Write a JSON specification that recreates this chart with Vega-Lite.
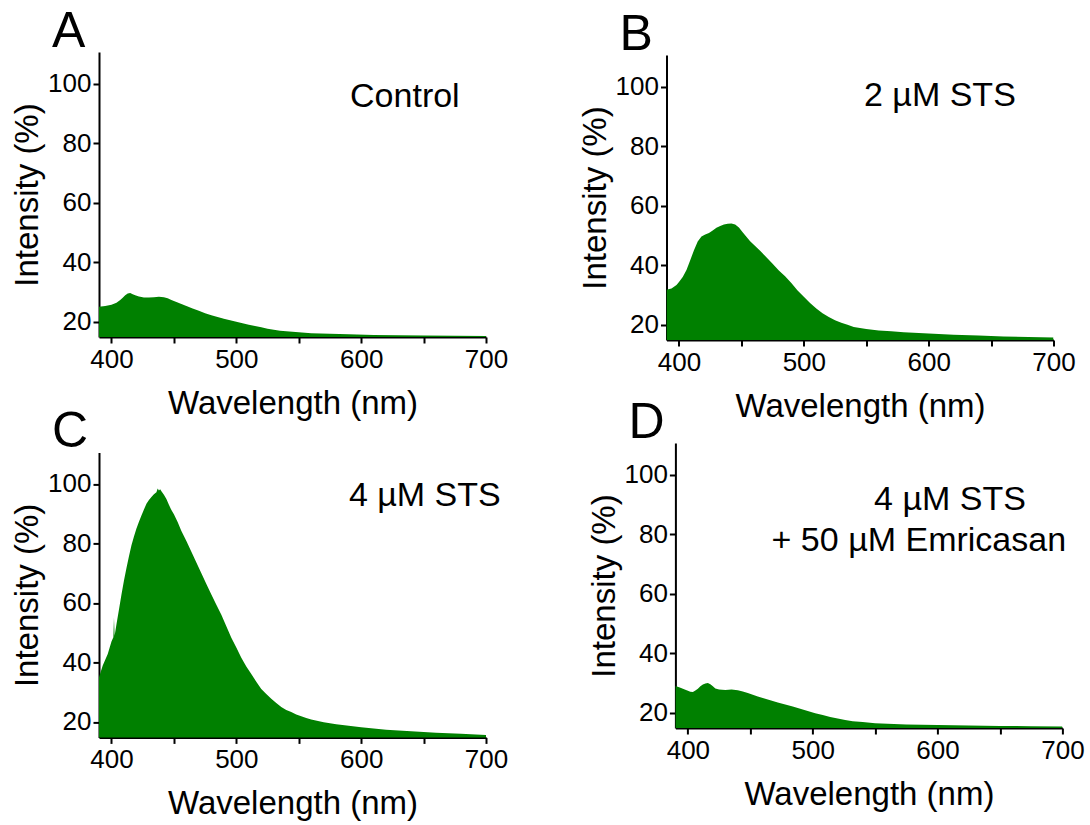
{
  "$schema": "https://vega.github.io/schema/vega-lite/v6.json",
  "background": "white",
  "padding": {"left": 11, "top": 7, "right": 0, "bottom": 0},
  "config": {
    "font": "Liberation Sans",
    "view": {"stroke": null},
    "axis": {
      "domainColor": "black", "domainWidth": 2, "tickColor": "black", "tickWidth": 2, "tickSize": 6,
      "grid": false, "labelColor": "black", "labelFontSize": 26, "labelFont": "Liberation Sans",
      "titleFont": "Liberation Sans", "titleFontSize": 33, "titleFontWeight": "normal", "titleColor": "black",
      "labelFlush": false, "labelOverlap": false
    },
    "title": {"fontSize": 50, "fontWeight": "normal", "font": "Liberation Sans", "color": "black", "anchor": "start", "frame": "group", "dx": -47, "offset": -5, "baseline": "alphabetic"},
    "text": {"font": "Liberation Sans", "fontSize": 34, "color": "black", "align": "center", "baseline": "alphabetic"}
  },
  "datasets": {
    "spectra": [
      {"panel":"A","w":390,"v":25.0},{"panel":"A","w":395,"v":25.2},{"panel":"A","w":400,"v":25.6},{"panel":"A","w":404,"v":26.3},{"panel":"A","w":407,"v":27.2},{"panel":"A","w":409,"v":28.0},{"panel":"A","w":411,"v":28.8},{"panel":"A","w":413,"v":29.4},{"panel":"A","w":415,"v":29.6},{"panel":"A","w":417,"v":29.2},{"panel":"A","w":419,"v":28.8},{"panel":"A","w":422,"v":28.4},{"panel":"A","w":426,"v":28.1},{"panel":"A","w":430,"v":28.1},{"panel":"A","w":434,"v":28.2},{"panel":"A","w":438,"v":28.3},{"panel":"A","w":442,"v":28.2},{"panel":"A","w":445,"v":27.8},{"panel":"A","w":448,"v":27.2},{"panel":"A","w":452,"v":26.6},{"panel":"A","w":456,"v":25.9},{"panel":"A","w":460,"v":25.2},{"panel":"A","w":465,"v":24.4},{"panel":"A","w":470,"v":23.6},{"panel":"A","w":475,"v":22.8},{"panel":"A","w":480,"v":22.1},{"panel":"A","w":485,"v":21.5},{"panel":"A","w":490,"v":20.9},{"panel":"A","w":495,"v":20.4},{"panel":"A","w":500,"v":19.9},{"panel":"A","w":505,"v":19.4},{"panel":"A","w":510,"v":18.9},{"panel":"A","w":515,"v":18.5},{"panel":"A","w":520,"v":18.1},{"panel":"A","w":525,"v":17.6},{"panel":"A","w":530,"v":17.2},{"panel":"A","w":535,"v":16.9},{"panel":"A","w":540,"v":16.7},{"panel":"A","w":550,"v":16.4},{"panel":"A","w":560,"v":16.1},{"panel":"A","w":575,"v":15.9},{"panel":"A","w":590,"v":15.7},{"panel":"A","w":610,"v":15.5},{"panel":"A","w":630,"v":15.4},{"panel":"A","w":650,"v":15.3},{"panel":"A","w":675,"v":15.2},{"panel":"A","w":700,"v":15.1},
      {"panel":"B","w":390,"v":31.7},{"panel":"B","w":394,"v":32.1},{"panel":"B","w":398,"v":33.3},{"panel":"B","w":400,"v":34.3},{"panel":"B","w":403,"v":36.0},{"panel":"B","w":406,"v":38.3},{"panel":"B","w":409,"v":41.6},{"panel":"B","w":412,"v":45.0},{"panel":"B","w":415,"v":47.9},{"panel":"B","w":418,"v":49.6},{"panel":"B","w":421,"v":50.3},{"panel":"B","w":424,"v":50.8},{"panel":"B","w":427,"v":51.6},{"panel":"B","w":430,"v":52.5},{"panel":"B","w":433,"v":53.1},{"panel":"B","w":436,"v":53.6},{"panel":"B","w":439,"v":53.9},{"panel":"B","w":442,"v":54.0},{"panel":"B","w":445,"v":53.6},{"panel":"B","w":448,"v":52.6},{"panel":"B","w":451,"v":51.0},{"panel":"B","w":454,"v":49.5},{"panel":"B","w":457,"v":48.0},{"panel":"B","w":461,"v":46.4},{"panel":"B","w":465,"v":44.8},{"panel":"B","w":470,"v":42.6},{"panel":"B","w":475,"v":40.4},{"panel":"B","w":480,"v":38.2},{"panel":"B","w":485,"v":36.2},{"panel":"B","w":490,"v":34.0},{"panel":"B","w":495,"v":31.4},{"panel":"B","w":500,"v":29.3},{"panel":"B","w":505,"v":27.2},{"panel":"B","w":510,"v":25.4},{"panel":"B","w":515,"v":23.8},{"panel":"B","w":520,"v":22.5},{"panel":"B","w":525,"v":21.4},{"panel":"B","w":530,"v":20.6},{"panel":"B","w":535,"v":19.9},{"panel":"B","w":540,"v":19.2},{"panel":"B","w":545,"v":18.8},{"panel":"B","w":550,"v":18.5},{"panel":"B","w":560,"v":18.0},{"panel":"B","w":570,"v":17.7},{"panel":"B","w":580,"v":17.4},{"panel":"B","w":600,"v":17.0},{"panel":"B","w":620,"v":16.6},{"panel":"B","w":640,"v":16.3},{"panel":"B","w":660,"v":16.0},{"panel":"B","w":680,"v":15.8},{"panel":"B","w":700,"v":15.6},
      {"panel":"C","w":390,"v":35.0},{"panel":"C","w":393,"v":39.0},{"panel":"C","w":397,"v":42.8},{"panel":"C","w":400,"v":47.0},{"panel":"C","w":401.5,"v":48.5},{"panel":"C","w":402,"v":55.0},{"panel":"C","w":402.5,"v":49.0},{"panel":"C","w":404,"v":52.8},{"panel":"C","w":406,"v":57.8},{"panel":"C","w":408,"v":62.8},{"panel":"C","w":410,"v":67.5},{"panel":"C","w":412,"v":71.7},{"panel":"C","w":414,"v":75.7},{"panel":"C","w":416,"v":79.4},{"panel":"C","w":418,"v":82.3},{"panel":"C","w":420,"v":85.0},{"panel":"C","w":422,"v":87.3},{"panel":"C","w":424,"v":89.4},{"panel":"C","w":426,"v":91.4},{"panel":"C","w":428,"v":93.3},{"panel":"C","w":430,"v":94.6},{"panel":"C","w":432,"v":95.6},{"panel":"C","w":434,"v":96.5},{"panel":"C","w":436,"v":97.2},{"panel":"C","w":437,"v":98.5},{"panel":"C","w":438,"v":97.8},{"panel":"C","w":439,"v":98.2},{"panel":"C","w":440,"v":97.5},{"panel":"C","w":442,"v":96.4},{"panel":"C","w":444,"v":94.9},{"panel":"C","w":446,"v":93.0},{"panel":"C","w":448,"v":91.2},{"panel":"C","w":450,"v":89.8},{"panel":"C","w":453,"v":87.2},{"panel":"C","w":456,"v":84.2},{"panel":"C","w":460,"v":80.8},{"panel":"C","w":464,"v":77.2},{"panel":"C","w":468,"v":73.6},{"panel":"C","w":472,"v":70.0},{"panel":"C","w":476,"v":66.4},{"panel":"C","w":480,"v":62.8},{"panel":"C","w":484,"v":59.4},{"panel":"C","w":488,"v":56.0},{"panel":"C","w":492,"v":52.2},{"panel":"C","w":496,"v":48.3},{"panel":"C","w":500,"v":45.0},{"panel":"C","w":504,"v":41.6},{"panel":"C","w":508,"v":38.6},{"panel":"C","w":512,"v":36.1},{"panel":"C","w":516,"v":33.5},{"panel":"C","w":520,"v":31.1},{"panel":"C","w":524,"v":29.4},{"panel":"C","w":528,"v":27.8},{"panel":"C","w":532,"v":26.4},{"panel":"C","w":536,"v":25.0},{"panel":"C","w":540,"v":24.0},{"panel":"C","w":544,"v":23.3},{"panel":"C","w":548,"v":22.5},{"panel":"C","w":552,"v":21.9},{"panel":"C","w":556,"v":21.3},{"panel":"C","w":560,"v":20.8},{"panel":"C","w":570,"v":19.9},{"panel":"C","w":580,"v":19.2},{"panel":"C","w":590,"v":18.7},{"panel":"C","w":600,"v":18.2},{"panel":"C","w":620,"v":17.4},{"panel":"C","w":640,"v":16.9},{"panel":"C","w":660,"v":16.4},{"panel":"C","w":680,"v":16.0},{"panel":"C","w":700,"v":15.6},
      {"panel":"D","w":390,"v":28.9},{"panel":"D","w":393,"v":28.5},{"panel":"D","w":396,"v":28.0},{"panel":"D","w":399,"v":27.5},{"panel":"D","w":402,"v":27.0},{"panel":"D","w":404,"v":26.9},{"panel":"D","w":406,"v":27.4},{"panel":"D","w":408,"v":28.0},{"panel":"D","w":410,"v":28.8},{"panel":"D","w":412,"v":29.4},{"panel":"D","w":414,"v":29.8},{"panel":"D","w":416,"v":29.9},{"panel":"D","w":418,"v":29.5},{"panel":"D","w":420,"v":28.8},{"panel":"D","w":422,"v":28.1},{"panel":"D","w":425,"v":27.7},{"panel":"D","w":430,"v":27.6},{"panel":"D","w":435,"v":27.7},{"panel":"D","w":440,"v":27.5},{"panel":"D","w":444,"v":27.1},{"panel":"D","w":448,"v":26.6},{"panel":"D","w":452,"v":26.0},{"panel":"D","w":456,"v":25.4},{"panel":"D","w":460,"v":24.9},{"panel":"D","w":466,"v":24.1},{"panel":"D","w":472,"v":23.4},{"panel":"D","w":478,"v":22.7},{"panel":"D","w":484,"v":22.0},{"panel":"D","w":490,"v":21.3},{"panel":"D","w":496,"v":20.5},{"panel":"D","w":502,"v":19.8},{"panel":"D","w":508,"v":19.2},{"panel":"D","w":514,"v":18.5},{"panel":"D","w":520,"v":18.0},{"panel":"D","w":526,"v":17.5},{"panel":"D","w":532,"v":17.1},{"panel":"D","w":540,"v":16.8},{"panel":"D","w":550,"v":16.4},{"panel":"D","w":560,"v":16.2},{"panel":"D","w":575,"v":16.0},{"panel":"D","w":600,"v":15.8},{"panel":"D","w":625,"v":15.6},{"panel":"D","w":650,"v":15.5},{"panel":"D","w":675,"v":15.4},{"panel":"D","w":700,"v":15.3}
    ]
  },
  "bounds": "flush",
  "spacing": 391,
  "vconcat": [
    {
      "bounds": "flush",
      "spacing": 180.5,
      "hconcat": [
        {
          "width": 387, "height": 285,
          "title": {"text": "A"},
          "layer": [
            {
              "data": {"name": "spectra"},
              "transform": [{"filter": "datum.panel === 'A'"}],
              "mark": {"type": "area", "color": "#008000", "clip": true},
              "encoding": {
                "x": {"field": "w", "type": "quantitative", "scale": {"domain": [390, 700], "nice": false, "zero": false},
                      "axis": {"title": "Wavelength (nm)", "values": [400, 450, 500, 550, 600, 650, 700], "labelExpr": "datum.value % 100 === 0 ? datum.label : ''", "labelFontSize": 26, "labelPadding": 3, "titlePadding": 15}},
                "y": {"field": "v", "type": "quantitative", "scale": {"domain": [14.8, 110.6], "nice": false, "zero": false},
                      "axis": {"title": "Intensity (%)", "values": [20, 30, 40, 50, 60, 70, 80, 90, 100], "labelExpr": "datum.value % 20 === 0 ? datum.label : ''", "labelFontSize": 26, "labelPadding": 2, "titlePadding": 3}}
              }
            },
            {
              "data": {"values": [{"label": "Control"}]},
              "mark": {"type": "text"},
              "encoding": {
                "x": {"datum": 635, "type": "quantitative"},
                "y": {"datum": 92, "type": "quantitative"},
                "text": {"field": "label"}
              }
            }
          ]
        },
        {
          "bounds": "flush",
          "spacing": 2,
          "vconcat": [
            {"width": 1, "height": 1, "data": {"values": []}, "mark": "point"},
            {
              "width": 387, "height": 285,
              "title": {"text": "B"},
              "layer": [
                {
                  "data": {"name": "spectra"},
                  "transform": [{"filter": "datum.panel === 'B'"}],
                  "mark": {"type": "area", "color": "#008000", "clip": true},
                  "encoding": {
                    "x": {"field": "w", "type": "quantitative", "scale": {"domain": [390, 700], "nice": false, "zero": false},
                          "axis": {"title": "Wavelength (nm)", "values": [400, 450, 500, 550, 600, 650, 700], "labelExpr": "datum.value % 100 === 0 ? datum.label : ''", "labelFontSize": 26, "labelPadding": 3, "titlePadding": 15}},
                    "y": {"field": "v", "type": "quantitative", "scale": {"domain": [14.8, 110.6], "nice": false, "zero": false},
                          "axis": {"title": "Intensity (%)", "values": [20, 30, 40, 50, 60, 70, 80, 90, 100], "labelExpr": "datum.value % 20 === 0 ? datum.label : ''", "labelFontSize": 26, "labelPadding": 2, "titlePadding": 3}}
                  }
                },
                {
                  "data": {"values": [{"label": "2 µM STS"}]},
                  "mark": {"type": "text"},
                  "encoding": {
                    "x": {"datum": 609, "type": "quantitative"},
                    "y": {"datum": 93.3, "type": "quantitative"},
                    "text": {"field": "label"}
                  }
                }
              ]
            }
          ]
        }
      ]
    },
    {
      "bounds": "flush",
      "spacing": 576.4,
      "hconcat": [
        {
          "bounds": "flush",
          "spacing": 8.4,
          "vconcat": [
            {"width": 1, "height": 1, "data": {"values": []}, "mark": "point"},
            {
              "width": 387, "height": 285,
              "title": {"text": "C"},
              "layer": [
                {
                  "data": {"name": "spectra"},
                  "transform": [{"filter": "datum.panel === 'C'"}],
                  "mark": {"type": "area", "color": "#008000", "clip": true},
                  "encoding": {
                    "x": {"field": "w", "type": "quantitative", "scale": {"domain": [390, 700], "nice": false, "zero": false},
                          "axis": {"title": "Wavelength (nm)", "values": [400, 450, 500, 550, 600, 650, 700], "labelExpr": "datum.value % 100 === 0 ? datum.label : ''", "labelFontSize": 26, "labelPadding": 3, "titlePadding": 15}},
                    "y": {"field": "v", "type": "quantitative", "scale": {"domain": [14.8, 110.6], "nice": false, "zero": false},
                          "axis": {"title": "Intensity (%)", "values": [20, 30, 40, 50, 60, 70, 80, 90, 100], "labelExpr": "datum.value % 20 === 0 ? datum.label : ''", "labelFontSize": 26, "labelPadding": 2, "titlePadding": 3}}
                  }
                },
                {
                  "data": {"values": [{"label": "4 µM STS"}]},
                  "mark": {"type": "text"},
                  "encoding": {
                    "x": {"datum": 651, "type": "quantitative"},
                    "y": {"datum": 92.7, "type": "quantitative"},
                    "text": {"field": "label"}
                  }
                }
              ]
            }
          ]
        },
        {
          "width": 387, "height": 285,
          "title": {"text": "D"},
          "layer": [
            {
              "data": {"name": "spectra"},
              "transform": [{"filter": "datum.panel === 'D'"}],
              "mark": {"type": "area", "color": "#008000", "clip": true},
              "encoding": {
                "x": {"field": "w", "type": "quantitative", "scale": {"domain": [390, 700], "nice": false, "zero": false},
                      "axis": {"title": "Wavelength (nm)", "values": [400, 450, 500, 550, 600, 650, 700], "labelExpr": "datum.value % 100 === 0 ? datum.label : ''", "labelFontSize": 26, "labelPadding": 3, "titlePadding": 15}},
                "y": {"field": "v", "type": "quantitative", "scale": {"domain": [14.8, 110.6], "nice": false, "zero": false},
                      "axis": {"title": "Intensity (%)", "values": [20, 30, 40, 50, 60, 70, 80, 90, 100], "labelExpr": "datum.value % 20 === 0 ? datum.label : ''", "labelFontSize": 26, "labelPadding": 2, "titlePadding": 3}}
              }
            },
            {
              "data": {"values": [{"label": "4 µM STS", "row": 1}, {"label": "+ 50 µM Emricasan", "row": 2}]},
              "transform": [{"filter": "datum.row === 1"}],
              "mark": {"type": "text"},
              "encoding": {
                "x": {"datum": 610, "type": "quantitative"},
                "y": {"datum": 88.2, "type": "quantitative"},
                "text": {"field": "label"}
              }
            },
            {
              "data": {"values": [{"label": "4 µM STS", "row": 1}, {"label": "+ 50 µM Emricasan", "row": 2}]},
              "transform": [{"filter": "datum.row === 2"}],
              "mark": {"type": "text"},
              "encoding": {
                "x": {"datum": 585, "type": "quantitative"},
                "y": {"datum": 74.2, "type": "quantitative"},
                "text": {"field": "label"}
              }
            }
          ]
        }
      ]
    }
  ]
}
